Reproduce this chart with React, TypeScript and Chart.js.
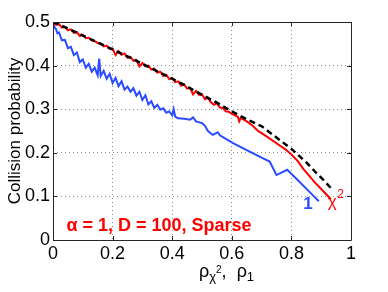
import React, { useEffect, useRef } from "react";
import { Chart, registerables } from "chart.js";

Chart.register(...registerables);

// ---- data ----
const theoryX = [0, 0.05, 0.1, 0.15, 0.2, 0.25, 0.3, 0.35, 0.4, 0.45, 0.5, 0.55, 0.6, 0.65, 0.7, 0.75, 0.8, 0.85, 0.885, 0.91, 0.938];
const theoryY = [0.5, 0.485, 0.469, 0.453, 0.437, 0.421, 0.404, 0.387, 0.37, 0.352, 0.333, 0.315, 0.295, 0.277, 0.261, 0.235, 0.209, 0.178, 0.153, 0.136, 0.115];

const chi2X = [
  0, 0.01, 0.02, 0.03, 0.04, 0.05, 0.06, 0.07, 0.08, 0.09,
  0.1, 0.11, 0.12, 0.13, 0.14, 0.15, 0.16, 0.17, 0.18, 0.19,
  0.2, 0.21, 0.22, 0.23, 0.24, 0.25, 0.26, 0.27, 0.28, 0.29,
  0.3, 0.31, 0.32, 0.33, 0.34, 0.35, 0.36, 0.37, 0.38, 0.39,
  0.4, 0.41, 0.42, 0.43, 0.44, 0.45, 0.46, 0.47, 0.48, 0.49,
  0.5, 0.51, 0.52, 0.53, 0.54, 0.55, 0.56, 0.57, 0.58, 0.59,
  0.6, 0.62, 0.625, 0.63, 0.65, 0.67, 0.69, 0.7, 0.72, 0.75,
  0.78, 0.8, 0.82, 0.84, 0.86, 0.88, 0.9, 0.932,
];
const chi2Y = [
  0.5, 0.494, 0.495, 0.487, 0.489, 0.481, 0.483, 0.475, 0.477, 0.468,
  0.471, 0.463, 0.464, 0.458, 0.456, 0.452, 0.451, 0.444, 0.446, 0.438,
  0.439, 0.424, 0.433, 0.425, 0.428, 0.418, 0.42, 0.411, 0.413, 0.398,
  0.406, 0.398, 0.4, 0.391, 0.393, 0.384, 0.386, 0.376, 0.379, 0.369,
  0.371, 0.362, 0.364, 0.354, 0.357, 0.347, 0.349, 0.334, 0.342, 0.333,
  0.334, 0.323, 0.326, 0.316, 0.31, 0.314, 0.304, 0.303, 0.295, 0.294,
  0.289, 0.283, 0.272, 0.28, 0.272, 0.262, 0.249, 0.245, 0.236, 0.222,
  0.208, 0.196, 0.182, 0.163, 0.147, 0.131, 0.117, 0.094,
];

const l1X = [
  0, 0.005, 0.01, 0.015, 0.02, 0.03, 0.04, 0.05, 0.06, 0.07, 0.08, 0.09,
  0.1, 0.11, 0.12, 0.13, 0.14, 0.15, 0.155, 0.16, 0.17, 0.18, 0.19,
  0.2, 0.21, 0.22, 0.23, 0.24, 0.25, 0.26, 0.27, 0.28, 0.29,
  0.3, 0.31, 0.32, 0.33, 0.34, 0.35, 0.36, 0.37, 0.38, 0.39,
  0.4, 0.405, 0.41, 0.42, 0.44, 0.46, 0.47, 0.48, 0.5, 0.51,
  0.52, 0.536, 0.553, 0.56, 0.58, 0.604, 0.65, 0.7, 0.727, 0.75,
  0.786, 0.82, 0.86, 0.892,
];
const l1Y = [
  0.5, 0.488, 0.484, 0.474, 0.476, 0.458, 0.459, 0.44, 0.443, 0.424, 0.43, 0.408,
  0.414, 0.395, 0.404, 0.386, 0.395, 0.378, 0.416, 0.376, 0.388, 0.37, 0.381,
  0.36, 0.372, 0.353, 0.364, 0.345, 0.352, 0.34, 0.348, 0.331, 0.34,
  0.321, 0.332, 0.311, 0.318, 0.303, 0.31, 0.299, 0.302, 0.292, 0.295,
  0.286, 0.3, 0.283, 0.279, 0.278, 0.276, 0.281, 0.272, 0.268, 0.262,
  0.25, 0.241, 0.247, 0.24, 0.232, 0.222, 0.206, 0.189, 0.18, 0.149,
  0.161, 0.138, 0.111, 0.089,
];

const xTicks = [0, 0.2, 0.4, 0.6, 0.8, 1];
const yTicks = [0, 0.1, 0.2, 0.3, 0.4, 0.5];

const FONT = "'Liberation Sans', Arial, Helvetica, sans-serif";

const toPts = (xs: number[], ys: number[]) => xs.map((x, i) => ({ x, y: ys[i] }));
const fmt = (v: number) => String(Math.round(v * 10) / 10);

const framePlugin = {
  id: "frame",
  afterDraw(chart: any) {
    const { ctx, chartArea: a, scales } = chart;
    const xs = scales.x;
    const ys = scales.y;
    ctx.save();
    ctx.strokeStyle = "#262626";
    ctx.lineWidth = 1;
    ctx.beginPath();
    ctx.rect(Math.round(a.left) + 0.5, Math.round(a.top) + 0.5, Math.round(a.right - a.left), Math.round(a.bottom - a.top));
    ctx.stroke();
    const tl = 4;
    ctx.beginPath();
    xTicks.forEach((t) => {
      const px = Math.round(xs.getPixelForValue(t)) + 0.5;
      ctx.moveTo(px, a.bottom);
      ctx.lineTo(px, a.bottom - tl);
      ctx.moveTo(px, a.top);
      ctx.lineTo(px, a.top + tl);
    });
    yTicks.forEach((t) => {
      const py = Math.round(ys.getPixelForValue(t)) + 0.5;
      ctx.moveTo(a.left, py);
      ctx.lineTo(a.left + tl, py);
      ctx.moveTo(a.right, py);
      ctx.lineTo(a.right - tl, py);
    });
    ctx.stroke();

    // annotations
    ctx.textBaseline = "alphabetic";
    ctx.textAlign = "left";
    ctx.fillStyle = "#ff0000";
    ctx.font = `bold 18px ${FONT}`;
    ctx.fillText("\u03b1 = 1, D = 100, Sparse", xs.getPixelForValue(0.045), ys.getPixelForValue(0.021));

    ctx.fillStyle = "#2a4bff";
    ctx.font = `bold 17px ${FONT}`;
    ctx.fillText("1", xs.getPixelForValue(0.84), ys.getPixelForValue(0.07));

    ctx.fillStyle = "#ff0000";
    ctx.font = `17px ${FONT}`;
    const cx = xs.getPixelForValue(0.922);
    const cy = ys.getPixelForValue(0.075);
    ctx.fillText("\u03c7", cx, cy);
    const cw = ctx.measureText("\u03c7").width;
    ctx.font = `12px ${FONT}`;
    ctx.fillText("2", cx + cw + 0.5, cy - 9);

    // x axis title
    ctx.fillStyle = "#000";
    const bx = 199;
    const by = 277;
    ctx.font = `18px ${FONT}`;
    ctx.fillText("\u03c1", bx, by);
    const w = ctx.measureText("\u03c1").width;
    ctx.font = `13px ${FONT}`;
    ctx.fillText("\u03c7", bx + w, by + 4);
    const w2 = ctx.measureText("\u03c7").width;
    ctx.font = `10px ${FONT}`;
    ctx.fillText("2", bx + w + w2, by - 4);
    const w3 = ctx.measureText("2").width;
    ctx.font = `18px ${FONT}`;
    ctx.fillText(",", bx + w + w2 + w3, by);
    const w4 = ctx.measureText(",  ").width;
    const rx = bx + w + w2 + w3 + w4;
    ctx.fillText("\u03c1", rx, by);
    ctx.font = `13px ${FONT}`;
    ctx.fillText("1", rx + w, by + 4);

    // y axis title
    ctx.save();
    ctx.translate(15, (a.top + a.bottom) / 2);
    ctx.rotate(-Math.PI / 2);
    ctx.textAlign = "center";
    ctx.textBaseline = "middle";
    ctx.font = `17px ${FONT}`;
    ctx.fillText("Collision probability", 0, 0);
    ctx.restore();
    ctx.restore();
  },
};

export default function App() {
  const ref = useRef<HTMLCanvasElement | null>(null);
  useEffect(() => {
    if (!ref.current) return;
    const chart = new Chart(ref.current, {
      type: "line",
      data: {
        datasets: [
          {
            label: "theory",
            data: toPts(theoryX, theoryY),
            borderColor: "#000",
            borderWidth: 2.5,
            borderDash: [6, 4],
            pointRadius: 0,
            fill: false,
            tension: 0,
            order: 0,
          },
          {
            label: "chi2",
            data: toPts(chi2X, chi2Y),
            borderColor: "#ff0000",
            borderWidth: 2,
            pointRadius: 0,
            fill: false,
            tension: 0,
            order: 1,
          },
          {
            label: "l1",
            data: toPts(l1X, l1Y),
            borderColor: "#2a4bff",
            borderWidth: 2,
            pointRadius: 0,
            fill: false,
            tension: 0,
            order: 2,
          },
        ],
      },
      options: {
        responsive: false,
        animation: false,
        events: [],
        layout: { padding: { top: 22, right: 37, left: 0, bottom: 0 } },
        plugins: { legend: { display: false }, tooltip: { enabled: false } },
        scales: {
          x: {
            type: "linear",
            min: 0,
            max: 1,
            afterBuildTicks: (s: any) => {
              s.ticks = xTicks.map((v) => ({ value: v }));
            },
            afterFit: (s: any) => {
              s.height = 52;
            },
            ticks: {
              callback: (v: any) => fmt(Number(v)),
              color: "#000",
              font: { family: FONT, size: 18 },
              padding: 3,
              maxRotation: 0,
              autoSkip: false,
            },
            grid: { color: "#8c8c8c", drawTicks: false, tickLength: 0, lineWidth: 1 },
            border: { display: false, dash: [1, 3] },
          },
          y: {
            type: "linear",
            min: 0,
            max: 0.5,
            afterBuildTicks: (s: any) => {
              s.ticks = yTicks.map((v) => ({ value: v }));
            },
            afterFit: (s: any) => {
              s.width = 53;
            },
            ticks: {
              callback: (v: any) => fmt(Number(v)),
              color: "#000",
              font: { family: FONT, size: 18 },
              padding: 3,
              autoSkip: false,
            },
            grid: { color: "#8c8c8c", drawTicks: false, tickLength: 0, lineWidth: 1 },
            border: { display: false, dash: [1, 3] },
          },
        },
      },
      plugins: [framePlugin],
    });
    return () => chart.destroy();
  }, []);
  return (
    <div style={{ position: "absolute", left: 0, top: 0, width: 388, height: 292, background: "#fff" }}>
      <canvas ref={ref} width={388} height={292} style={{ width: 388, height: 292, display: "block" }} />
    </div>
  );
}
